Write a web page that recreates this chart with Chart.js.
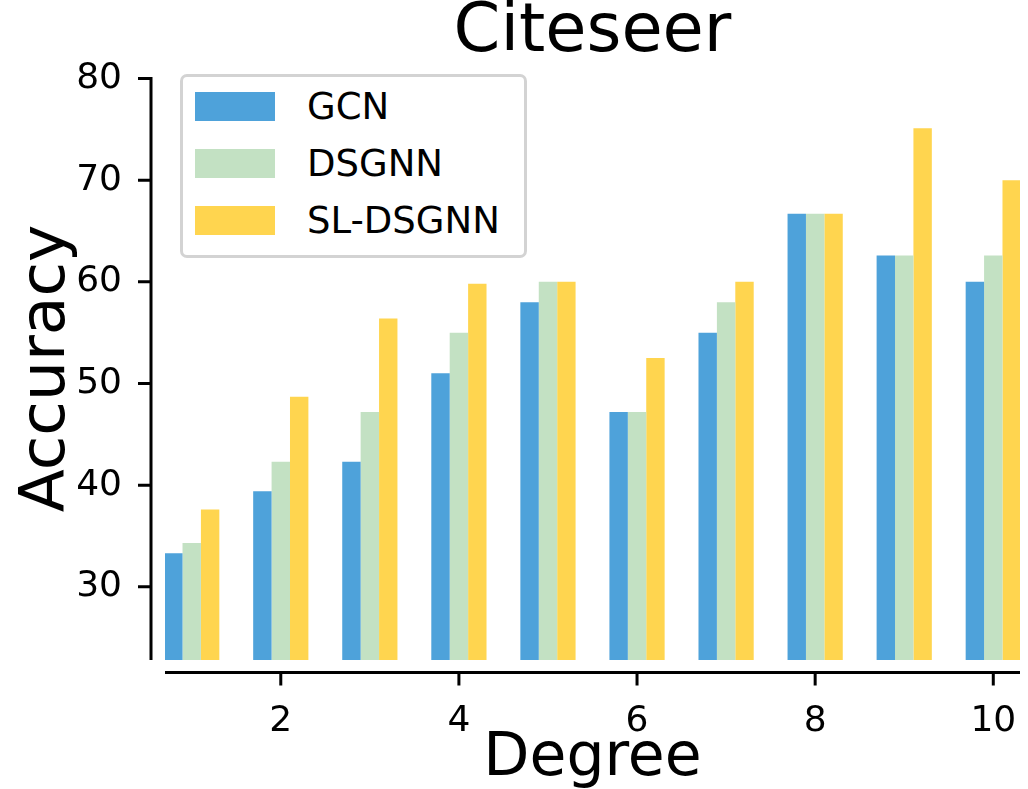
<!DOCTYPE html>
<html>
<head>
<meta charset="utf-8">
<script src="https://cdn.jsdelivr.net/npm/chart.js@4"></script>
<style>
  body { margin: 0; background: #fff; }
  #wrap { position: relative; width: 1028px; height: 789px; }
  #legend {
    position: absolute; left: 180px; top: 74px; width: 347px; height: 184px;
    box-sizing: border-box; border: 3px solid #d3d3d3; border-radius: 7px; background: #fff;
    font-family: "DejaVu Sans", sans-serif; color: #000;
  }
  .item { position: absolute; left: 12px; height: 29px; }
  .sw { position: absolute; left: 0; top: 0; width: 80px; height: 29px; }
  .lb { position: absolute; left: 112px; top: 0; line-height: 29px; font-size: 37px; white-space: nowrap; }
</style>
</head>
<body>
<div id="wrap">
  <canvas id="degreeChart" width="1028" height="789"></canvas>
  <div id="legend"></div>
</div>
<script>
// data
const degrees = [1, 2, 3, 4, 5, 6, 7, 8, 9, 10];
const gcn = [33.3, 39.4, 42.3, 51.0, 58.0, 47.2, 55.0, 66.7, 62.6, 60.0];
const dsgnn = [34.3, 42.3, 47.2, 55.0, 60.0, 47.2, 58.0, 66.7, 62.6, 62.6];
const slDsgnn = [37.6, 48.7, 56.4, 59.8, 60.0, 52.5, 60.0, 66.7, 75.1, 70.0];
const seriesNames = ['GCN', 'DSGNN', 'SL-DSGNN'];
const seriesColors = ['#4ea2da', '#c3e1c3', '#ffd54f'];
const xTicks = [2, 4, 6, 8, 10];
const yTicks = [30, 40, 50, 60, 70, 80];

const font = '"DejaVu Sans", sans-serif';

// gabungkan x dan y untuk sumbu linear
const toPoints = vals => vals.map((v, i) => ({ x: degrees[i], y: v }));

// garis sumbu terpisah (gaya despine dengan offset)
const spinePlugin = {
  id: 'spines',
  afterDraw(chart) {
    const { ctx, chartArea, scales } = chart;
    const yx = chartArea.left - 14;
    const xy = chartArea.bottom + 12.5;
    ctx.save();
    ctx.strokeStyle = '#000';
    ctx.lineWidth = 3;
    ctx.beginPath();
    ctx.moveTo(yx, chartArea.top);
    ctx.lineTo(yx, chartArea.bottom);
    yTicks.forEach(v => {
      const p = scales.y.getPixelForValue(v);
      ctx.moveTo(yx - 13, p);
      ctx.lineTo(yx, p);
    });
    ctx.moveTo(chartArea.left, xy);
    ctx.lineTo(chartArea.right, xy);
    xTicks.forEach(v => {
      const p = scales.x.getPixelForValue(v);
      ctx.moveTo(p, xy);
      ctx.lineTo(p, xy + 13);
    });
    ctx.stroke();
    ctx.restore();
  }
};

const ctx = document.getElementById('degreeChart').getContext('2d');
const chart = new Chart(ctx, {
  type: 'bar',
  data: {
    datasets: [gcn, dsgnn, slDsgnn].map((vals, i) => ({
      label: seriesNames[i],
      data: toPoints(vals),
      backgroundColor: seriesColors[i],
      borderWidth: 0,
      categoryPercentage: 0.62,
      barPercentage: 1.0
    }))
  },
  options: {
    responsive: false,
    animation: false,
    layout: { padding: { left: 0, right: 8, top: 0, bottom: 0 } },
    plugins: {
      legend: { display: false },
      tooltip: { enabled: false },
      title: {
        display: true,
        text: 'Citeseer',
        fullSize: false,
        color: '#000',
        font: { family: font, size: 67, weight: 'normal', lineHeight: 1 },
        padding: { top: 0, bottom: 10 }
      }
    },
    scales: {
      x: {
        type: 'linear',
        offset: false,
        min: 0.7,
        max: 10.3,
        // tickLength dipakai sebagai jarak label, garisnya tidak digambar
        grid: { display: false, drawTicks: true, tickLength: 38, offset: false },
        border: { display: false },
        afterBuildTicks: axis => { axis.ticks = xTicks.map(v => ({ value: v })); },
        afterFit: axis => { axis.height = 129; },
        ticks: { color: '#000', padding: 2, font: { family: font, size: 36 } },
        title: {
          display: true,
          text: 'Degree',
          color: '#000',
          font: { family: font, size: 60, lineHeight: 1 },
          padding: { top: 0, bottom: 0 }
        }
      },
      y: {
        min: 22.8,
        max: 80.15,
        grid: { display: false, drawTicks: true, tickLength: 41 },
        border: { display: false },
        afterBuildTicks: axis => { axis.ticks = yTicks.map(v => ({ value: v })); },
        afterFit: axis => { axis.width = 165; },
        ticks: { color: '#000', padding: 2, font: { family: font, size: 36 } },
        title: {
          display: true,
          text: 'Accuracy',
          color: '#000',
          font: { family: font, size: 63, lineHeight: 1.2 },
          padding: { top: 10, bottom: 0 }
        }
      }
    }
  },
  plugins: [spinePlugin]
});

// legenda HTML di pojok kiri atas
const legendEl = document.getElementById('legend');
const rowTops = [15, 72, 129];
chart.data.datasets.forEach((ds, i) => {
  const item = document.createElement('div');
  item.className = 'item';
  item.style.top = rowTops[i] + 'px';
  item.innerHTML = '<div class="sw" style="background:' + ds.backgroundColor + '"></div>' +
    '<div class="lb">' + ds.label + '</div>';
  legendEl.appendChild(item);
});
</script>
</body>
</html>
